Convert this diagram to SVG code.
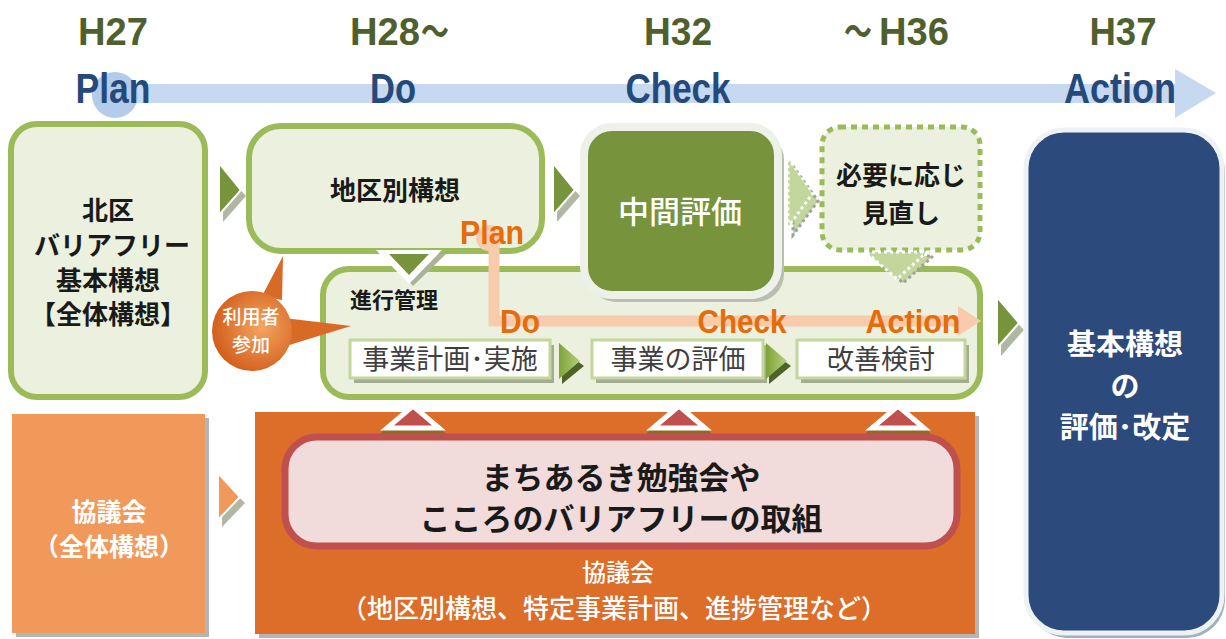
<svg xmlns="http://www.w3.org/2000/svg" width="1226" height="639" viewBox="0 0 1226 639">
<defs>
<style>
.yr{font-family:"Liberation Sans","Noto Sans CJK JP",sans-serif;font-weight:bold;font-size:38px;fill:#4f5f2e;text-anchor:middle}
.ph{font-family:"Liberation Sans",sans-serif;font-weight:bold;font-size:43px;fill:#244a7c;text-anchor:middle}
.op{font-family:"Liberation Sans",sans-serif;font-weight:bold;font-size:34px;fill:#e46c0a;text-anchor:middle}
.jb{font-family:"Noto Sans CJK JP",sans-serif;font-weight:bold;text-anchor:middle;fill:#1a1a1a}
.jr{font-family:"Noto Sans CJK JP",sans-serif;font-weight:normal;text-anchor:middle;fill:#3f3f3f}
.gbox{fill:#ebf1de;stroke:#9bbb59;stroke-width:6}
.ibox{fill:#ffffff;stroke:#c3d69b;stroke-width:3}
.ish{fill:#a4ad92}
.garr{fill:#77933c;stroke:#ffffff;stroke-width:2}
.gsh{fill:#b0b8a3}
.lsh{fill:#4f6228}
.rtri{fill:#c0504d;stroke:#ffffff;stroke-width:5;stroke-linejoin:miter}
.rsh{fill:#8f6a2a}
.wt{fill:#ffffff}
</style>
<radialGradient id="bub" cx="0.62" cy="0.45" r="0.6">
<stop offset="0" stop-color="#f4a562"/>
<stop offset="1" stop-color="#d3601e"/>
</radialGradient>
<linearGradient id="lg" x1="0" y1="0" x2="1" y2="0">
<stop offset="0" stop-color="#7fa23a"/>
<stop offset="1" stop-color="#b5d07a"/>
</linearGradient>
</defs>
<rect width="1226" height="639" fill="#ffffff"/>

<g id="timeline">
<rect x="95" y="84" width="1085" height="19" fill="#c6d9f1"/>
<polygon points="1175,69 1216,93 1175,118" fill="#c6d9f1"/>
<circle cx="115" cy="95" r="23" fill="#b4cbea"/>
<text class="yr" x="113" y="45" textLength="70" lengthAdjust="spacingAndGlyphs">H27</text>
<text class="yr" x="385" y="45" textLength="70" lengthAdjust="spacingAndGlyphs">H28</text>
<text class="yr" x="435" y="45" textLength="28" lengthAdjust="spacingAndGlyphs">〜</text>
<text class="yr" x="678" y="45" textLength="68" lengthAdjust="spacingAndGlyphs">H32</text>
<text class="yr" x="858" y="45" textLength="28" lengthAdjust="spacingAndGlyphs">〜</text>
<text class="yr" x="914" y="45" textLength="70" lengthAdjust="spacingAndGlyphs">H36</text>
<text class="yr" x="1123" y="45" textLength="67" lengthAdjust="spacingAndGlyphs">H37</text>
<text class="ph" x="113" y="103" textLength="75" lengthAdjust="spacingAndGlyphs">Plan</text>
<text class="ph" x="393" y="103" textLength="46" lengthAdjust="spacingAndGlyphs">Do</text>
<text class="ph" x="678" y="103" textLength="105" lengthAdjust="spacingAndGlyphs">Check</text>
<text class="ph" x="1120" y="103" textLength="112" lengthAdjust="spacingAndGlyphs">Action</text>
</g>

<g id="node-kita">
<rect class="gbox" x="11" y="124" width="194" height="273" rx="26"/>
<text class="jb" font-size="26" x="108" y="220">北区</text>
<text class="jb" font-size="26" x="112" y="255">バリアフリー</text>
<text class="jb" font-size="26" x="108" y="290">基本構想</text>
<text class="jb" font-size="26" x="108" y="324">【全体構想】</text>
</g>

<g id="node-kyogikai-zentai">
<rect x="16" y="418" width="193" height="219" fill="#b5b5b5"/>
<rect x="12" y="414" width="193" height="219" fill="#f0995a"/>
<text class="jb wt" font-size="25" x="109" y="521">協議会</text>
<text class="jb wt" font-size="25" x="109" y="556">（全体構想）</text>
</g>

<g id="node-kyogikai">
<rect x="259" y="416" width="720" height="222" fill="#b5b5b5"/>
<rect x="255" y="412" width="720" height="222" fill="#dc6e29"/>
<text class="jb wt" font-size="24" x="618" y="581" style="font-weight:500">協議会</text>
<text class="jb wt" font-size="26" x="614" y="618" style="font-weight:500">（地区別構想、特定事業計画、進捗管理など）</text>
</g>

<g id="connectors">
<polygon class="rsh" points="385,428 441,428 448,437 378,437"/>
<polygon class="rsh" points="651,428 707,428 714,437 644,437"/>
<polygon class="rsh" points="870,428 926,428 933,437 863,437"/>
<polygon class="rtri" points="413,406 439,428 387,428"/>
<polygon class="rtri" points="679,406 705,428 653,428"/>
<polygon class="rtri" points="898,406 924,428 872,428"/>
</g>

<g id="node-machiaruki">
<rect x="285" y="437" width="672" height="109" rx="32" fill="#f2dcdb" stroke="#c0504d" stroke-width="7"/>
<text class="jb" font-size="31" x="621" y="489">まちあるき勉強会や</text>
<text class="jb" font-size="31" x="621" y="530">こころのバリアフリーの取組</text>
</g>

<g id="node-shinkou">
<rect class="gbox" x="323" y="269" width="657" height="128" rx="26"/>
<text class="jb" font-size="22" x="394" y="308">進行管理</text>
</g>

<g id="node-chikubetsu">
<rect class="gbox" x="249" y="126" width="293" height="125" rx="32"/>
<text class="jb" font-size="26" x="395" y="200">地区別構想</text>
</g>

<g id="connectors-2">
<polygon points="384,254 446,254 413,286" fill="#a9b39a"/>
<polygon points="376,250 442,250 409,284" fill="#ffffff"/>
<polygon points="389,254 429,254 409,275" fill="#77933c"/>
<polygon class="gsh" points="223,170 246,196 223,222"/>
<polygon class="garr" points="219,163 241,190 219,215"/>
<polygon class="gsh" points="557,170 580,196 557,222"/>
<polygon class="garr" points="553,163 575,190 553,215"/>
<polygon class="gsh" points="1001,305 1024,330 1001,356"/>
<polygon class="garr" points="997,297 1019,323 997,348"/>
<polygon class="gsh" points="222,480 245,503 222,527"/>
<polygon points="218,473 240,497 218,520" fill="#f0995a" stroke="#ffffff" stroke-width="2"/>
<polyline points="494,240 494,321 960,321" fill="none" stroke="#f8cbad" stroke-width="11"/>
<circle cx="489" cy="238" r="13" fill="#f8cbad"/>
<polygon points="958,306 981,321 958,336" fill="#f8cbad"/>
</g>

<g id="node-chukan">
<rect x="588" y="132" width="196" height="170" rx="28" fill="#b8beb0"/>
<rect x="584" y="127" width="194" height="168" rx="28" fill="#77933c" stroke="#eef1ea" stroke-width="8"/>
<text class="jb wt" font-size="31" x="680" y="223" style="font-weight:500">中間評価</text>
</g>

<g id="node-minaoshi">
<rect x="822" y="127" width="158" height="123" rx="18" fill="#ebf1de" stroke="#9bbb59" stroke-width="5" stroke-dasharray="6,5"/>
<text class="jb" font-size="26" x="901" y="185">必要に応じ</text>
<text class="jb" font-size="26" x="901" y="223">見直し</text>
</g>

<g id="connectors-3">
<polygon points="791,163 816,198 791,232" fill="#c3d69b" stroke="#a0a0a0" stroke-width="3" stroke-dasharray="3,3" transform="translate(2,3)"/>
<polygon points="788,158 813,193 788,227" fill="#c3d69b" stroke="#ffffff" stroke-width="3" stroke-dasharray="3,3"/>
<polygon points="870,254 930,254 900,281" fill="#c3d69b" stroke="#a0a0a0" stroke-width="3" stroke-dasharray="3,3" transform="translate(3,2)"/>
<polygon points="866,252 927,252 897,279" fill="#c3d69b" stroke="#ffffff" stroke-width="3" stroke-dasharray="3,3"/>
</g>

<g id="pdca-labels">
<text class="op" x="492" y="244" textLength="64" lengthAdjust="spacingAndGlyphs">Plan</text>
<text class="op" x="520" y="333" textLength="40" lengthAdjust="spacingAndGlyphs">Do</text>
<text class="op" x="742" y="333" textLength="89" lengthAdjust="spacingAndGlyphs">Check</text>
<text class="op" x="913" y="333" textLength="95" lengthAdjust="spacingAndGlyphs">Action</text>
</g>

<g id="node-jigyo-keikaku">
<rect class="ish" x="354" y="345" width="200" height="38"/>
<rect class="ibox" x="350" y="340" width="200" height="38"/>
<text class="jr" font-size="27" x="450" y="369">事業計画･実施</text>
</g>
<g id="node-jigyo-hyoka">
<rect class="ish" x="596" y="345" width="171" height="38"/>
<rect class="ibox" x="592" y="340" width="171" height="38"/>
<text class="jr" font-size="27" x="678" y="369">事業の評価</text>
</g>
<g id="node-kaizen">
<rect class="ish" x="801" y="345" width="168" height="38"/>
<rect class="ibox" x="797" y="340" width="168" height="38"/>
<text class="jr" font-size="27" x="881" y="369">改善検討</text>
</g>

<g id="connectors-4">
<polygon class="lsh" points="562,350 584,366 562,384"/>
<polygon points="559,343 580,361 559,379" fill="url(#lg)"/>
<polygon class="lsh" points="769,350 791,366 769,384"/>
<polygon points="766,343 787,361 766,379" fill="url(#lg)"/>
</g>

<g id="node-riyousha">
<path d="M 262,296 L 283,256 L 282,300 Z" fill="#d86a26"/>
<path d="M 284,318 L 351,326 L 286,346 Z" fill="#d86a26"/>
<circle cx="252" cy="331" r="40" fill="url(#bub)"/>
<text class="jb wt" font-size="19" x="251" y="324" style="font-weight:500">利用者</text>
<text class="jb wt" font-size="19" x="251" y="352" style="font-weight:500">参加</text>
</g>

<g id="node-kihon">
<rect x="1029" y="134" width="196" height="504" rx="38" fill="#9fb3bf"/>
<rect x="1026" y="130" width="196" height="503" rx="38" fill="#2c4a7c" stroke="#eef2f5" stroke-width="5"/>
<text class="jb wt" font-size="29" x="1125" y="355">基本構想</text>
<text class="jb wt" font-size="29" x="1125" y="397">の</text>
<text class="jb wt" font-size="29" x="1125" y="438">評価･改定</text>
</g>
</svg>
